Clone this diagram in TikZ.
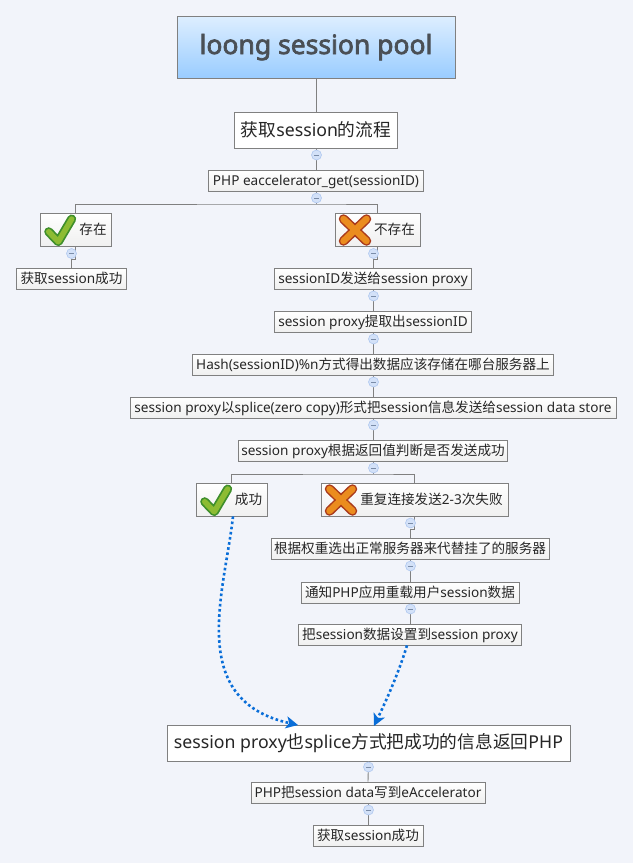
\documentclass[tikz,border=0pt]{standalone}
\usepackage{fontspec}
\setmainfont{Noto Sans}
\newfontfamily\cjk{Noto Sans CJK SC}
\newfontfamily\titlefont[FakeBold=2.6]{Noto Sans}
\newcommand{\zh}[1]{{\cjk #1}}
\usetikzlibrary{arrows.meta}
\definecolor{pagebg}{HTML}{F2F4FA}
\definecolor{boxline}{HTML}{808080}
\definecolor{boxtext}{HTML}{262626}
\definecolor{roottext}{HTML}{4A4F55}
\definecolor{roottop}{HTML}{DDEEFF}
\definecolor{rootbottom}{HTML}{99CCFF}
\definecolor{foldfill}{HTML}{D3E1F8}
\definecolor{foldline}{HTML}{AFC8F0}
\definecolor{dotblue}{HTML}{0A6ED8}
\definecolor{yesline}{HTML}{3F8F2C}
\definecolor{yesfill}{HTML}{8DBC33}
\definecolor{noline}{HTML}{A93A1C}
\definecolor{nofill}{HTML}{EB8C1E}
\tikzset{
  mapnode/.style={draw=boxline,line width=0.8pt,inner sep=0pt,text=boxtext,
    top color=white,bottom color=black!6,font=\fontsize{13.6}{15}\selectfont,
    text height=12.5pt,text depth=3pt},
  topicnode/.style={mapnode,top color=white,bottom color=white,
    font=\fontsize{17.7}{21}\selectfont,text height=17pt,text depth=4.5pt},
  rootnode/.style={draw=boxline,line width=0.8pt,inner sep=0pt,text=roottext,
    top color=roottop,bottom color=rootbottom,
    font=\fontsize{26.5}{30}\titlefont,text height=22pt,text depth=9pt},
  fold/.style={circle,draw=foldline,fill=foldfill,line width=0.6pt,inner sep=0pt,
    minimum size=10pt,path picture={\draw[foldline!70!black,line width=0.6pt]
      ([xshift=-2.2pt]path picture bounding box.center) --
      ([xshift=2.2pt]path picture bounding box.center);}},
  branch/.style={draw=boxline,line width=0.9pt},
  relation/.style={draw=dotblue,line width=2.6pt,dash pattern=on 2.6pt off 2.6pt,
    -{Stealth[length=12pt,width=12pt,inset=3pt]}},
  markyes/.pic={
    \draw[line width=9pt,line cap=round,line join=round,color=yesline]
      (-11.3,1.7) -- (-1.7,11.7) -- (11.7,-11);
    \draw[line width=5.5pt,line cap=round,line join=round,color=yesfill]
      (-11.3,1.7) -- (-1.7,11.7) -- (11.7,-11);
  },
  markno/.pic={
    \draw[line width=9.5pt,line cap=round,color=noline]
      (-11.5,-11) -- (11.5,11) (11.5,-11) -- (-11.5,11);
    \draw[line width=6.5pt,line cap=round,color=nofill]
      (-11.5,-11) -- (11.5,11) (11.5,-11) -- (-11.5,11);
  }
}
\begin{document}
\begin{tikzpicture}[x=1pt,y=-1pt]
  \fill[pagebg] (0,0) rectangle (633,863);
  \useasboundingbox (0,0) rectangle (633,863);

  % Placing the boxes
  \node[rootnode,minimum width=278pt,minimum height=62pt] (root) at (316,47.5) {loong session pool};
  \node[topicnode,minimum width=163pt,minimum height=36pt] (topic) at (316,130) {\zh{获取}session\zh{的流程}};
  \node[mapnode,minimum width=215pt,minimum height=21pt] (get) at (316,180.5) {PHP eaccelerator\_get(sessionID)};
  \node[mapnode,minimum width=71pt,minimum height=33pt] (yes) at (75.5,229.5) {\hspace*{35pt}\zh{存在}};
  \node[mapnode,minimum width=85pt,minimum height=33pt] (no) at (377.5,229.5) {\hspace*{34pt}\zh{不存在}};
  \node[mapnode,minimum width=110pt,minimum height=21pt] (gotone) at (71.5,278.5) {\zh{获取}session\zh{成功}};
  \node[mapnode,minimum width=197pt,minimum height=21pt] (send) at (373,278.5) {sessionID\zh{发送给}session proxy};
  \node[mapnode,minimum width=197pt,minimum height=21pt] (fetch) at (373,321.5) {session proxy\zh{提取出}sessionID};
  \node[mapnode,minimum width=361pt,minimum height=21pt] (hash) at (373,364.5) {Hash(sessionID)\%n\zh{方式得出数据应该存储在哪台服务器上}};
  \node[mapnode,minimum width=486pt,minimum height=21pt] (splice) at (373,407.5) {session proxy\zh{以}splice(zero copy)\zh{形式把}session\zh{信息发送给}session data store};
  \node[mapnode,minimum width=269pt,minimum height=21pt] (judge) at (373,450.5) {session proxy\zh{根据返回值判断是否发送成功}};
  \node[mapnode,minimum width=71pt,minimum height=33pt] (okay) at (231.5,499.5) {\hspace*{34pt}\zh{成功}};
  \node[mapnode,minimum width=187pt,minimum height=33pt] (fail) at (414.5,499.5) {\hspace*{34pt}\zh{重复连接发送}2-3\zh{次失败}};
  \node[mapnode,minimum width=278pt,minimum height=21pt] (pick) at (410,549) {\zh{根据权重选出正常服务器来代替挂了的服务器}};
  \node[mapnode,minimum width=218pt,minimum height=21pt] (notify) at (410,592.5) {\zh{通知}PHP\zh{应用重载用户}session\zh{数据}};
  \node[mapnode,minimum width=223pt,minimum height=21pt] (store) at (410,634.5) {\zh{把}session\zh{数据设置到}session proxy};
  \node[topicnode,minimum width=403pt,minimum height=36pt,text height=15pt,text depth=5pt] (back) at (368.5,743) {session proxy\zh{也}splice\zh{方式把成功的信息返回}PHP};
  \node[mapnode,minimum width=234pt,minimum height=21pt] (write) at (368,792.5) {PHP\zh{把}session data\zh{写到}eAccelerator};
  \node[mapnode,minimum width=110pt,minimum height=21pt] (gottwo) at (368,835.5) {\zh{获取}session\zh{成功}};

  % Marking the boxes
  \pic at (60,230) {markyes};
  \pic at (355,230) {markno};
  \pic at (216,500) {markyes};
  \pic at (341,500) {markno};

  % Named bends of the branches
  \coordinate (jget) at (316,204);
  \coordinate (jjudge) at (373,474);
  \coordinate (jyes) at (71.5,259);
  \coordinate (jno) at (373,259);
  \coordinate (jfail) at (410,529);
  \coordinate (jback) at (374,726);
  \coordinate (jokay) at (298,725);

  % Drawing the branches
  \draw[branch] (root.south) -- (topic.north);
  \draw[branch] (topic.south) -- (get.north);
  \draw[branch] (get.south) -- (jget);
  \draw[branch] (yes.north) |- (jget) -| (no.north);
  \draw[branch] (yes.south) |- (jyes) -- (gotone.north);
  \draw[branch] (no.south) |- (jno) -- (send.north);
  \draw[branch] (send.south) -- (fetch.north);
  \draw[branch] (fetch.south) -- (hash.north);
  \draw[branch] (hash.south) -- (splice.north);
  \draw[branch] (splice.south) -- (judge.north);
  \draw[branch] (judge.south) -- (jjudge);
  \draw[branch] (okay.north) |- (jjudge) -| (fail.north);
  \draw[branch] (fail.south) |- (jfail) -- (pick.north);
  \draw[branch] (pick.south) -- (notify.north);
  \draw[branch] (notify.south) -- (store.north);
  \draw[branch] (back.south) -- (write.north);
  \draw[branch] (write.south) -- (gottwo.north);

  % Marking the folds
  \node[fold] (foldtopic) at (316.5,155) {};
  \node[fold] (foldget) at (316.5,198) {};
  \node[fold] (foldyes) at (71.5,253.5) {};
  \node[fold] (foldno) at (373.5,253.5) {};
  \node[fold] (foldsend) at (373.5,296) {};
  \node[fold] (foldfetch) at (373.5,339) {};
  \node[fold] (foldhash) at (373.5,382) {};
  \node[fold] (foldsplice) at (373.5,425) {};
  \node[fold] (foldjudge) at (373.5,468) {};
  \node[fold] (foldfail) at (410.5,523) {};
  \node[fold] (foldpick) at (410.5,566) {};
  \node[fold] (foldnotify) at (410.5,609) {};
  \node[fold] (foldback) at (368.5,767) {};
  \node[fold] (foldwrite) at (368.5,810) {};

  % Drawing the dotted relations
  \draw[relation] (okay.south) ++(1.5,0) .. controls (225,590) and (185,700) .. (jokay);
  \draw[relation] (store.south) ++(-3,0) .. controls (398,675) and (385,703) .. (jback);
\end{tikzpicture}
\end{document}
